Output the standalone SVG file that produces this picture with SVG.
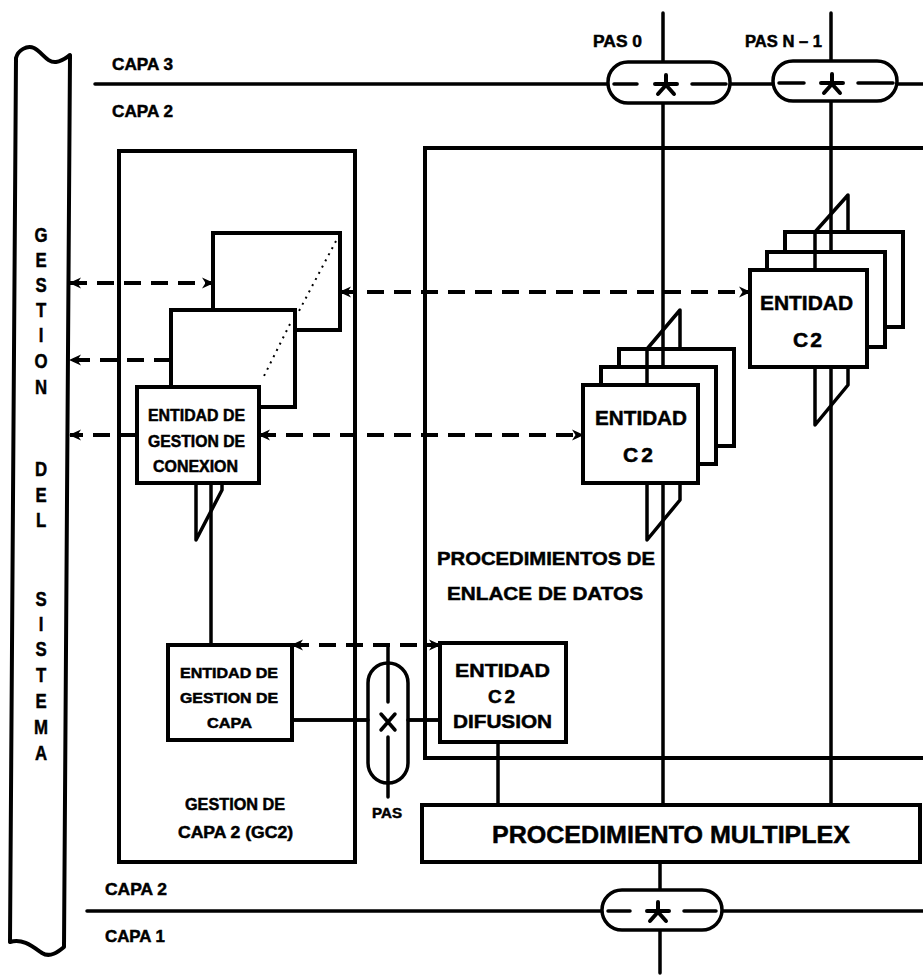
<svg xmlns="http://www.w3.org/2000/svg" width="923" height="977" viewBox="0 0 923 977">
<defs>
<style>
.ln{stroke:#000;stroke-width:3.5;fill:none;stroke-linecap:round;stroke-linejoin:round}
.th{stroke:#000;stroke-width:4;fill:#fff;stroke-linejoin:round}
.bx{fill:#fff;stroke:#000;stroke-width:4}
.ov{fill:#fff;stroke:#000;stroke-width:3.5}
.ds{stroke:#000;stroke-width:4;fill:none;stroke-dasharray:17 10}
.dt{stroke:#000;stroke-width:2;fill:none;stroke-dasharray:2 5}
.t{font-family:"Liberation Sans",Arial,sans-serif;font-weight:bold;fill:#000;stroke:#000;stroke-width:0.5}
.c{text-anchor:middle}
</style>
<marker id="ah" viewBox="0 0 12 12" refX="11" refY="6" markerWidth="12" markerHeight="12" markerUnits="userSpaceOnUse" orient="auto-start-reverse">
<path d="M0,0.5 L12,6 L0,11.5 L3.5,6 Z" fill="#000"/>
</marker>
<g id="ast"><path d="M0,-10V0M-11,-1H11M0,0L-8,9M0,0L8,9" stroke="#000" stroke-width="4" fill="none" stroke-linecap="round"/></g>
</defs>
<rect width="923" height="977" fill="#fff"/>

<!-- layer lines and labels -->
<g id="layers">
<path class="ln" d="M95,84H608M730,84H773M897,84H923"/>
<path class="ln" d="M87,911H602M722,911H923"/>
<text class="t" x="112" y="70" font-size="17" textLength="61" lengthAdjust="spacingAndGlyphs">CAPA 3</text>
<text class="t" x="112" y="117" font-size="17" textLength="61" lengthAdjust="spacingAndGlyphs">CAPA 2</text>
<text class="t" x="105" y="895" font-size="17" textLength="62" lengthAdjust="spacingAndGlyphs">CAPA 2</text>
<text class="t" x="105" y="942" font-size="17" textLength="60" lengthAdjust="spacingAndGlyphs">CAPA 1</text>
</g>

<!-- connectors -->
<g id="connectors">
<path class="ln" d="M663,13V62M663,103V805M660,862V890M660,930V973"/>
<path class="ln" d="M831,13V61M831,100V805"/>
<path class="ln" d="M211,483V645"/>
<path class="ln" d="M498,742V805"/>
<path class="ln" d="M292,720H440"/>
<path class="ln" d="M388,645V702M388,737V797"/>
</g>

<!-- Gestion del sistema bar -->
<g id="gestion-sistema">
<path class="th" d="M16,58 C18,50 27,45 34,48 C42,52 47,63 56,62 C63,61 67,57 70,55 L64,947 C58,952 50,958 42,953 C32,946 22,938 10,942 Z"/>
<g transform="translate(41 0) scale(0.8 1)" class="t c" font-size="21">
<text x="0" y="242">G</text>
<text x="0" y="267">E</text>
<text x="0" y="292">S</text>
<text x="0" y="317">T</text>
<text x="0" y="342">I</text>
<text x="0" y="368">O</text>
<text x="0" y="394">N</text>
<text x="0" y="476">D</text>
<text x="0" y="502">E</text>
<text x="0" y="527">L</text>
<text x="0" y="606">S</text>
<text x="0" y="631">I</text>
<text x="0" y="656">S</text>
<text x="0" y="682">T</text>
<text x="0" y="708">E</text>
<text x="0" y="734">M</text>
<text x="0" y="760">A</text>
</g>
</g>

<!-- GC2 box -->
<g id="gc2">
<rect x="119" y="151" width="236" height="711" fill="none" stroke="#000" stroke-width="4"/>
<text class="t" x="185" y="810" font-size="16" textLength="100" lengthAdjust="spacingAndGlyphs">GESTION DE</text>
<text class="t" x="178" y="838" font-size="16" textLength="115" lengthAdjust="spacingAndGlyphs">CAPA 2 (GC2)</text>
</g>

<!-- Procedimientos de enlace de datos box -->
<g id="procedimientos">
<path d="M923,148H425V758H923" fill="none" stroke="#000" stroke-width="4"/>
<text class="t" x="437" y="565" font-size="19" textLength="218" lengthAdjust="spacingAndGlyphs">PROCEDIMIENTOS DE</text>
<text class="t" x="447" y="600" font-size="19" textLength="196" lengthAdjust="spacingAndGlyphs">ENLACE DE DATOS</text>
</g>

<!-- Conexion entity stack -->
<g id="entidad-conexion">
<rect class="bx" x="213" y="233" width="127" height="97"/>
<path class="dt" d="M336,241L299,311"/>
<rect class="bx" x="171" y="310" width="124" height="97"/>
<path class="dt" d="M290,324L264,376"/>
<rect class="bx" x="137" y="387" width="122" height="96"/>
<path class="ln" d="M196,485V540L222,490V485"/>
<text class="t" x="148" y="421" font-size="16" textLength="97" lengthAdjust="spacingAndGlyphs">ENTIDAD DE</text>
<text class="t" x="148" y="447" font-size="16" textLength="97" lengthAdjust="spacingAndGlyphs">GESTION DE</text>
<text class="t" x="153" y="472" font-size="16" textLength="85" lengthAdjust="spacingAndGlyphs">CONEXION</text>
</g>

<!-- Capa management entity -->
<g id="entidad-capa">
<rect class="bx" x="168" y="645" width="124" height="95"/>
<text class="t" x="180" y="678" font-size="15" textLength="98" lengthAdjust="spacingAndGlyphs">ENTIDAD DE</text>
<text class="t" x="180" y="703" font-size="15" textLength="98" lengthAdjust="spacingAndGlyphs">GESTION DE</text>
<text class="t" x="207" y="728" font-size="15" textLength="45" lengthAdjust="spacingAndGlyphs">CAPA</text>
</g>

<!-- Left C2 entity stack (PAS 0) -->
<g id="entidad-c2-pas0">
<path class="ln" d="M680,349V310L647,349"/>
<rect class="bx" x="619" y="349" width="115" height="97"/>
<rect class="bx" x="601" y="367" width="115" height="97"/>
<rect class="bx" x="583" y="385" width="115" height="98"/>
<path class="ln" d="M647,349V385M663,349V367"/>
<path class="ln" d="M647,485V540L680,500V485"/>
<text class="t" x="595" y="425" font-size="21" textLength="92" lengthAdjust="spacingAndGlyphs">ENTIDAD</text>
<text class="t" x="623" y="462" font-size="21" textLength="30" lengthAdjust="spacing">C2</text>
</g>

<!-- Right C2 entity stack (PAS N-1) -->
<g id="entidad-c2-pasn1">
<path class="ln" d="M848,232V195L815,232"/>
<rect class="bx" x="785" y="232" width="118" height="95"/>
<rect class="bx" x="767" y="252" width="118" height="95"/>
<rect class="bx" x="750" y="270" width="117" height="97"/>
<path class="ln" d="M815,232V270M831,232V252"/>
<path class="ln" d="M815,369V425L848,385V369"/>
<text class="t" x="760" y="310" font-size="21" textLength="93" lengthAdjust="spacingAndGlyphs">ENTIDAD</text>
<text class="t" x="793" y="347" font-size="21" textLength="29" lengthAdjust="spacing">C2</text>
</g>

<!-- Difusion entity -->
<g id="entidad-difusion">
<rect class="bx" x="440" y="643" width="126" height="99"/>
<text class="t" x="455" y="677" font-size="19" textLength="95" lengthAdjust="spacingAndGlyphs">ENTIDAD</text>
<text class="t" x="488" y="703" font-size="19" textLength="27" lengthAdjust="spacing">C2</text>
<text class="t" x="453" y="728" font-size="19" textLength="99" lengthAdjust="spacingAndGlyphs">DIFUSION</text>
</g>

<!-- Multiplex -->
<g id="multiplex">
<rect class="bx" x="422" y="805" width="498" height="57"/>
<text class="t" x="492" y="843" font-size="24" textLength="358" lengthAdjust="spacingAndGlyphs">PROCEDIMIENTO MULTIPLEX</text>
</g>

<!-- PAS switches -->
<g id="pas-0">
<rect class="ov" x="608" y="62" width="122" height="41" rx="20"/>
<path class="ln" d="M614,84H637M692,84H726"/>
<use href="#ast" x="666" y="85"/>
<text class="t" x="593" y="47" font-size="16" textLength="49" lengthAdjust="spacingAndGlyphs">PAS 0</text>
</g>
<g id="pas-n1">
<rect class="ov" x="773" y="61" width="124" height="40" rx="20"/>
<path class="ln" d="M779,83H804M858,83H893"/>
<use href="#ast" x="832" y="84"/>
<text class="t" x="745" y="47" font-size="16" textLength="77" lengthAdjust="spacingAndGlyphs">PAS N – 1</text>
</g>
<g id="pas-capa1">
<rect class="ov" x="602" y="890" width="120" height="40" rx="20"/>
<path class="ln" d="M608,911H630M684,911H716"/>
<use href="#ast" x="658" y="912"/>
</g>
<g id="pas-gestion">
<rect class="ov" x="368" y="663" width="40" height="120" rx="20" fill="none"/>
<path class="ln" d="M388,663V702M388,737V783M292,720H368M408,720H440"/>
<path class="ln" d="M381,714L395,730M395,714L381,730"/>
<text class="t" x="372" y="818" font-size="14" textLength="30" lengthAdjust="spacingAndGlyphs">PAS</text>
</g>

<!-- dashed arrows -->
<g id="arrows">
<path class="ds" d="M70,283H213" marker-start="url(#ah)" marker-end="url(#ah)"/>
<path class="ds" d="M171,360H70" marker-end="url(#ah)"/>
<path class="ds" d="M137,435H70" marker-end="url(#ah)"/>
<path class="ds" d="M259,435H583" marker-start="url(#ah)" marker-end="url(#ah)"/>
<path class="ds" d="M340,292H750" marker-start="url(#ah)" marker-end="url(#ah)"/>
<path class="ds" d="M292,645H440" marker-start="url(#ah)" marker-end="url(#ah)"/>
</g>
</svg>
